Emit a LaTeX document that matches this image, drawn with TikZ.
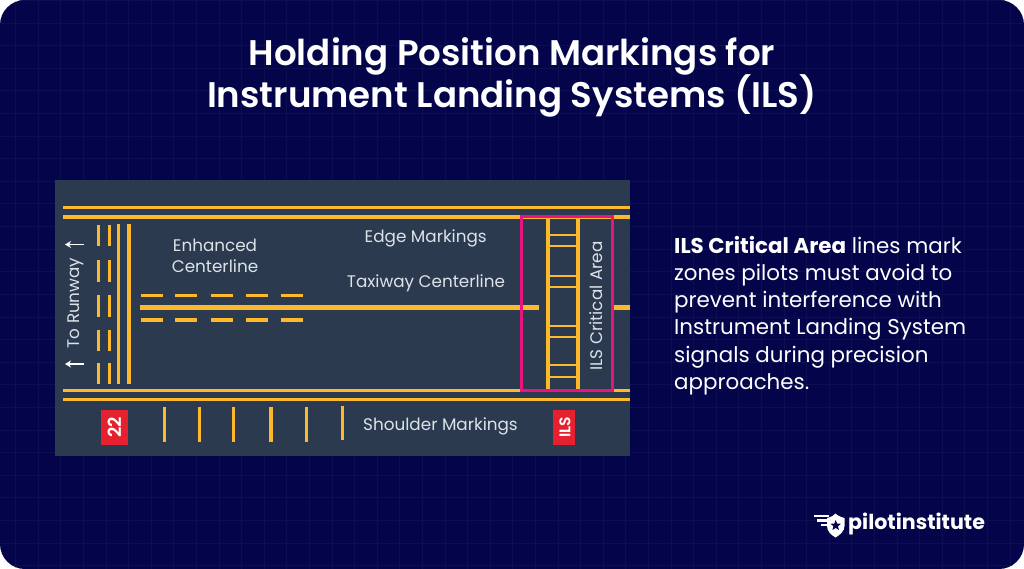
\documentclass[tikz,border=0pt]{standalone}
\usepackage{fontspec}
\setmainfont{Poppins}
\newfontfamily\titlefont{Poppins SemiBold}
\newfontfamily\semifont{Poppins SemiBold}
\usetikzlibrary{shapes.geometric,arrows.meta}
\definecolor{navy}{HTML}{03044A}
\definecolor{gridc}{HTML}{0C0E50}
\definecolor{panel}{HTML}{2B3A4F}
\definecolor{amber}{HTML}{FDB92C}
\definecolor{pinkc}{HTML}{EA1480}
\definecolor{redc}{HTML}{E6212F}
\definecolor{labelc}{HTML}{DDE2E8}
\tikzset{
  mark line/.style={draw=amber,line width=3.2pt},
  center line/.style={draw=amber,line width=5.2pt},
  rung/.style={draw=amber,line width=2.2pt},
  lab/.style={text=labelc,font=\fontsize{16.8}{21}\selectfont,align=center,inner sep=0pt},
  badge/.style={inner sep=0pt,text=white,rotate=90,anchor=center},
  title/.style={text=white,font=\fontsize{35.6}{40}\titlefont,align=center,inner sep=0pt},
  body/.style={text=white,font=\fontsize{21.4}{27.2}\selectfont,align=left,anchor=north west,inner sep=0pt},
  runarrow/.style={draw=white,line width=1.2pt,-{Stealth[length=6pt,width=7pt]}},
}
\begin{document}
\begin{tikzpicture}[x=1pt,y=-1pt]
\useasboundingbox (0,0) rectangle (1024,569);
\fill[white] (0,0) rectangle (1024,569);
\begin{scope}
\clip[rounded corners=25pt] (0,0) rectangle (1024,569);
\fill[navy] (0,0) rectangle (1024,569);
\foreach \i in {0,...,45}{\draw[gridc,line width=0.8pt] ({15.5+22.6*\i},0) -- ({15.5+22.6*\i},569);}
\foreach \i in {0,...,25}{\draw[gridc,line width=0.8pt] (0,{0.5+22.6*\i}) -- (1024,{0.5+22.6*\i});}
\end{scope}
\node[title] (ttl) at (512,77.5) {Holding Position Markings for\\[-1pt]Instrument Landing Systems (ILS)};
% panel
\fill[panel] (55,180) rectangle (630,456);
% edge lines
\foreach \y in {207.7,217,390.3,399.3}{\draw[mark line] (63,\y) -- (630,\y);}
% runway holding lines
\foreach \x in {118.3,129}{\draw[mark line] (\x,223.7) -- (\x,384);}
\foreach \x in {98.7,109.7}{
  \foreach \a/\b in {225/246,260.3/281.7,295.3/316.7,329.7/351,363/384.3}{\draw[mark line] (\x,\a) -- (\x,\b);}}
% centerline
\draw[center line] (140.3,307.3) -- (539.3,307.3);
\draw[center line] (613.3,307.3) -- (630,307.3);
\foreach \y in {295.7,320}{
  \foreach \a/\b in {141/163,175/197,210.7/232.7,246/268,281/303}{\draw[mark line] (\a,\y) -- (\b,\y);}}
% shoulder
\foreach \x in {164.3,199.7,233.3,271,306.7}{\draw[mark line] (\x,407) -- (\x,441.7);}
\draw[mark line] (342.3,405.7) -- (342.3,440.3);
% ILS ladder
\foreach \x in {548,578}{\draw[mark line] (\x,218) -- (\x,390);}
\foreach \y in {234.7,246,275.7,287.3,326,337.3,365.3,376.7}{\draw[rung] (548,\y) -- (578,\y);}
\draw[pinkc,line width=3pt] (521,216.5) rectangle (612,390.5);
% labels
\node[lab] (ec) at (215,256) {Enhanced\\Centerline};
\node[lab] (em) at (425.7,238.5) {Edge Markings};
\node[lab] (tc) at (426,283.5) {Taxiway Centerline};
\node[lab] (sm) at (440.5,426.5) {Shoulder Markings};
\node[lab,rotate=90] (ica) at (596.5,306) {ILS Critical Area};
\node[lab,rotate=90] (tr) at (76,303) {To Runway};
\coordinate (a1s) at (84,244.5); \coordinate (a1e) at (65,244.5);
\coordinate (a2s) at (84,364); \coordinate (a2e) at (65,364);
\draw[runarrow] (a1s) -- (a1e);
\draw[runarrow] (a2s) -- (a2e);
% badges
\fill[redc] (100.7,410) rectangle (128,444.7);
\node[badge,font=\fontsize{18}{18}\semifont] (b22) at (115.2,427.3) {22};
\fill[redc] (553.3,410) rectangle (575,444.7);
\node[badge,font=\fontsize{15.5}{16}\semifont] (bils) at (565,427.3) {ILS};
% body text
\node[body] (txt) at (674,236) {\textbf{ILS Critical Area} lines mark\\zones pilots must avoid to\\prevent interference with\\Instrument Landing System\\signals during precision\\approaches.};
% logo
\draw[white,line width=2.2pt] (814,516) -- (829,516);
\draw[white,line width=2.2pt] (817,520.5) -- (829,520.5);
\draw[white,line width=2.2pt] (821,525) -- (829,525);
\fill[white] (827,518) .. controls (832,517) and (834,515) .. (835.5,513.5) .. controls (837,515) and (840,517) .. (844.5,518) -- (844.5,526) .. controls (844.5,531) and (840,535) .. (835.5,537.5) .. controls (831,535) and (827,531) .. (827,526) -- cycle;
\node[star,star points=5,star point ratio=2.3,fill=navy,inner sep=0pt,minimum size=11pt] (st) at (835.7,525.5) {};
\node[text=white,font=\fontsize{20.6}{24}\selectfont\bfseries,anchor=west,inner sep=0pt] (logo) at (848,523.5) {pilotinstitute};
\end{tikzpicture}
\end{document}
